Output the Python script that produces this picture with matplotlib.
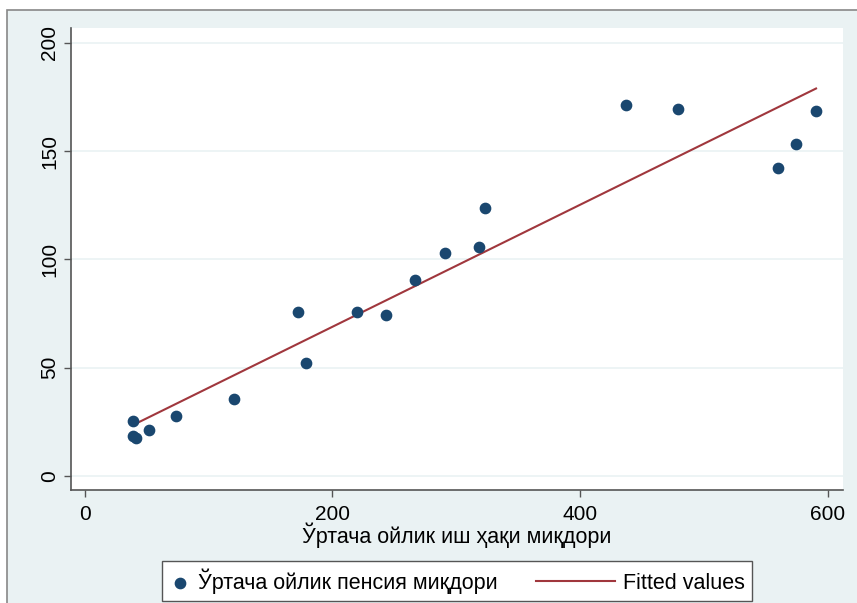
import numpy as np
import matplotlib.pyplot as plt
from matplotlib.patches import Rectangle
from matplotlib.legend_handler import HandlerLine2D

plt.rcParams['font.family'] = ['Liberation Sans', 'DejaVu Sans']

# average monthly wage vs average monthly pension
wage = [38.8, 38.8, 41, 51.7, 73.5, 120.4, 172, 178.6, 219.8, 243.2,
        266.7, 290.9, 318.4, 323.2, 437.2, 479.2, 560, 574.5, 590.7]
pension = [25.4, 18.5, 17.5, 21.2, 27.7, 35.6, 75.8, 52.2, 75.8, 74.4,
           90.5, 103, 105.8, 123.8, 171.4, 169.5, 142.3, 153.3, 168.6]
x_ticks = [0, 200, 400, 600]
y_ticks = [0, 50, 100, 150, 200]
x_label = "Ўртача ойлик иш ҳақи миқдори"
legend_labels = ["Ўртача ойлик пенсия миқдори", "Fitted values"]

BG = '#eaf2f3'
NAVY = '#1a476f'
MAROON = '#a0373d'


class LongLine(HandlerLine2D):
    """Line handle that reaches back into the column gap (Stata style)."""

    def create_artists(self, legend, orig_handle, xdescent, ydescent,
                       width, height, fontsize, trans):
        extra = 2.7 * fontsize
        return super().create_artists(legend, orig_handle, xdescent + extra,
                                      ydescent, width + extra, height,
                                      fontsize, trans)


fig = plt.figure(figsize=(8.57, 6.03), dpi=100, facecolor='white')
fig.patches.append(Rectangle((7 / 857, -0.01), 1.0, 1 - 10 / 603 + 0.01,
                             transform=fig.transFigure, facecolor=BG,
                             edgecolor='#888888', linewidth=1.2, zorder=-5))
ax = fig.add_axes([0.0828, 0.1874, 0.9837 - 0.0828, 0.9536 - 0.1874])
ax.set_facecolor('white')

b, a = np.polyfit(wage, pension, 1)
xs = np.array([min(wage), max(wage)])

ax.scatter(wage, pension, s=55, color=NAVY, zorder=3, label=legend_labels[0])
fit_line, = ax.plot(xs, a + b * xs, color=MAROON, lw=1.5, zorder=2,
                    label=legend_labels[1])

ax.set_xlim(-11.3, 612.5)
ax.set_ylim(-6.5, 206.9)
ax.set_xticks(x_ticks)
ax.set_yticks(y_ticks)
ax.set_yticklabels([str(t) for t in y_ticks], rotation=90, va='center')
ax.tick_params(labelsize=15, color='#555555', length=5, width=1)
ax.tick_params(axis='x', pad=6)
ax.grid(axis='y', color=BG, lw=1.2)
ax.set_axisbelow(True)
for s in ['top', 'right']:
    ax.spines[s].set_visible(False)
for s in ['left', 'bottom']:
    ax.spines[s].set_color('#555555')
    ax.spines[s].set_linewidth(1.2)
ax.set_xlabel(x_label, fontsize=15.5, labelpad=-1)

leg = fig.legend(loc='center', bbox_to_anchor=(457 / 857, 1 - 581 / 603),
                 ncol=2, fontsize=15.5, frameon=True, fancybox=False,
                 edgecolor='#555555', handlelength=1, handletextpad=0.35,
                 columnspacing=4.45, borderpad=0.35, scatterpoints=1,
                 handler_map={fit_line: LongLine()})
leg.get_frame().set_linewidth(1.0)
leg.get_frame().set_alpha(1)

fig.savefig('out.png', dpi=100, facecolor=fig.get_facecolor())
